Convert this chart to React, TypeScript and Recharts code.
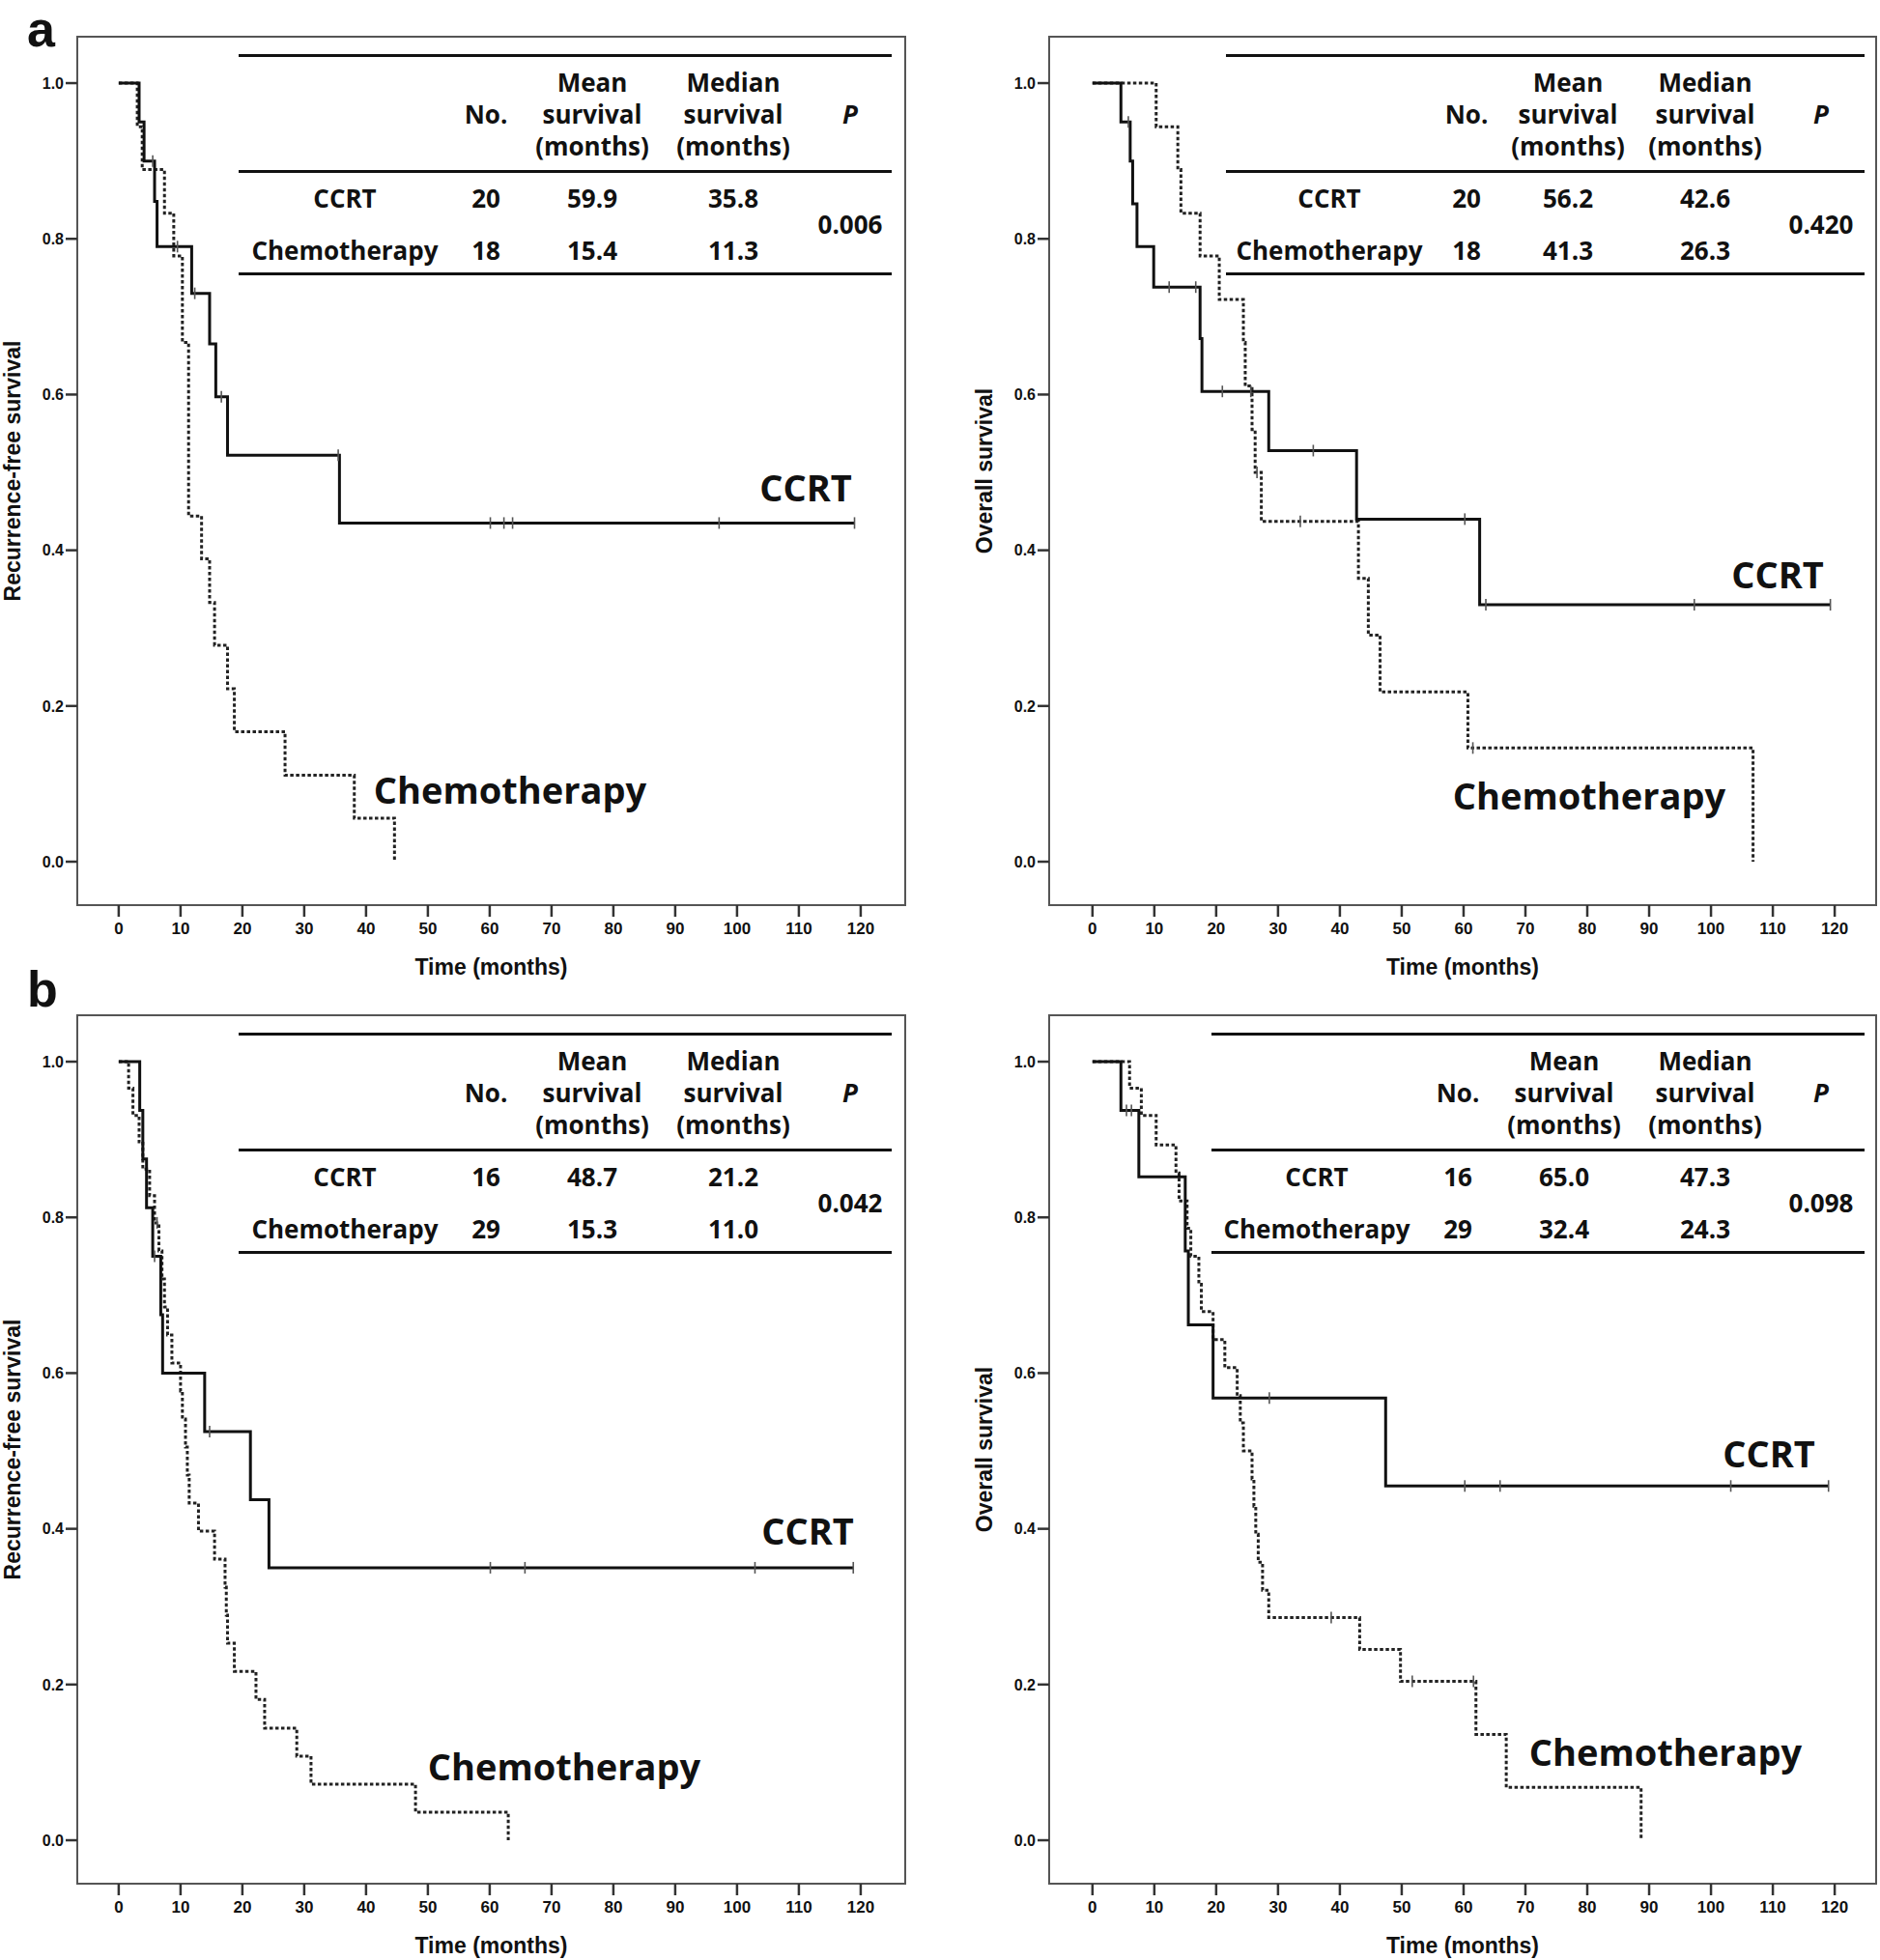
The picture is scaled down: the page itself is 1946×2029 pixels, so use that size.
import React from 'react';
import { ComposedChart, Line, Scatter, XAxis, YAxis, ReferenceArea, Label } from 'recharts';

// axis ticks shared by all four panels
const monthTicks = [0, 10, 20, 30, 40, 50, 60, 70, 80, 90, 100, 110, 120];
const survTicks = [0, 0.2, 0.4, 0.6, 0.8, 1.0];
const groupNames = ['CCRT', 'Chemotherapy'];

// a, recurrence-free survival
const aRfsCcrtTimes = [0, 3.3, 4.1, 5.8, 6.2, 11.8, 14.7, 15.7, 17.6, 35.7, 119];
const aRfsCcrtSurv = [1, 0.95, 0.9, 0.848, 0.79, 0.73, 0.665, 0.597, 0.522, 0.435, 0.435];
const aRfsCcrtCensor = [5.5, 9.5, 12.3, 16.6, 35.5, 60.1, 62.3, 63.7, 97.1, 119];
const aRfsChemoTimes = [0, 3.0, 3.8, 7.4, 8.9, 10.3, 11.3, 13.4, 14.7, 15.5, 17.6, 18.7, 26.9, 38.1, 44.6];
const aRfsChemoSurv = [1, 0.944, 0.889, 0.833, 0.778, 0.667, 0.444, 0.389, 0.333, 0.278, 0.222, 0.167, 0.111, 0.056, 0];
const aRfsChemoCensor: number[] = [];
const aRfsNo = [20, 18];
const aRfsMean = ['59.9', '15.4'];
const aRfsMedian = ['35.8', '11.3'];
const aRfsP = '0.006';

// a, overall survival
const aOsCcrtTimes = [0, 4.6, 6.1, 6.5, 7.2, 9.9, 17.4, 17.7, 28.5, 42.7, 62.6, 119.3];
const aOsCcrtSurv = [1, 0.95, 0.9, 0.845, 0.79, 0.738, 0.672, 0.604, 0.528, 0.44, 0.33, 0.33];
const aOsCcrtCensor = [5.8, 12.4, 16.7, 21.0, 25.6, 35.7, 60.2, 63.6, 97.3, 119.3];
const aOsChemoTimes = [0, 10.3, 13.8, 14.3, 17.4, 20.5, 24.4, 24.7, 25.8, 26.3, 27.3, 43.0, 44.6, 46.5, 60.7, 106.8];
const aOsChemoSurv = [1, 0.944, 0.889, 0.833, 0.778, 0.722, 0.667, 0.611, 0.555, 0.5, 0.437, 0.364, 0.291, 0.218, 0.146, 0];
const aOsChemoCensor = [26.6, 33.6, 61.5];
const aOsNo = [20, 18];
const aOsMean = ['56.2', '41.3'];
const aOsMedian = ['42.6', '26.3'];
const aOsP = '0.420';

// b, recurrence-free survival
const bRfsCcrtTimes = [0, 3.4, 3.9, 4.5, 5.5, 6.8, 7.1, 13.9, 21.3, 24.3, 118.8];
const bRfsCcrtSurv = [1, 0.9375, 0.875, 0.8125, 0.75, 0.675, 0.6, 0.525, 0.4375, 0.35, 0.35];
const bRfsCcrtCensor = [5.8, 14.7, 60.1, 65.7, 102.9, 118.8];
const bRfsChemoTimes = [0, 1.6, 2.3, 3.3, 3.9, 5.0, 5.8, 6.5, 7.0, 7.4, 7.9, 8.6, 10.0, 10.3, 10.8, 11.1, 11.4, 12.9, 15.5, 17.2, 17.4, 17.6, 18.7, 22.2, 23.6, 28.8, 31.1, 48.0, 63.0];
const bRfsChemoSurv = [1, 0.966, 0.931, 0.897, 0.862, 0.828, 0.793, 0.757, 0.721, 0.685, 0.649, 0.613, 0.577, 0.541, 0.505, 0.469, 0.433, 0.397, 0.361, 0.325, 0.289, 0.253, 0.217, 0.181, 0.144, 0.108, 0.072, 0.036, 0];
const bRfsChemoCensor = [6.2];
const bRfsNo = [16, 29];
const bRfsMean = ['48.7', '15.3'];
const bRfsMedian = ['21.2', '11.0'];
const bRfsP = '0.042';

// b, overall survival
const bOsCcrtTimes = [0, 4.6, 7.5, 15.0, 15.5, 19.5, 47.4, 119.0];
const bOsCcrtSurv = [1, 0.9375, 0.852, 0.757, 0.662, 0.568, 0.455, 0.455];
const bOsCcrtCensor = [5.5, 6.3, 28.6, 60.2, 65.9, 103.2, 119.0];
const bOsChemoTimes = [0, 6.0, 7.9, 10.3, 13.5, 14.0, 15.3, 15.9, 17.2, 17.6, 19.5, 21.4, 23.4, 23.9, 24.4, 25.8, 26.1, 26.4, 26.8, 27.5, 28.5, 43.2, 49.8, 62.0, 66.9, 88.7];
const bOsChemoSurv = [1, 0.966, 0.931, 0.893, 0.857, 0.821, 0.786, 0.75, 0.714, 0.679, 0.643, 0.607, 0.571, 0.536, 0.5, 0.464, 0.429, 0.393, 0.357, 0.321, 0.286, 0.245, 0.204, 0.136, 0.068, 0];
const bOsChemoCensor = [38.6, 51.7, 61.6];
const bOsNo = [16, 29];
const bOsMean = ['65.0', '32.4'];
const bOsMedian = ['47.3', '24.3'];
const bOsP = '0.098';

type Pt = { t: number; s: number };

const toSteps = (times: number[], surv: number[]): Pt[] => times.map((t, i) => ({ t, s: surv[i] }));

const survAt = (times: number[], surv: number[], t: number) => {
  let s = surv[0];
  times.forEach((x, i) => {
    if (x <= t) s = surv[i];
  });
  return s;
};

const toCensor = (times: number[], surv: number[], cens: number[]): Pt[] =>
  cens.map((t) => ({ t, s: survAt(times, surv, t) }));

const AXIS_FONT = '"Liberation Sans", Arial, sans-serif';
const TABLE_FONT = '"Open Sans", "Noto Sans", sans-serif';
const Y_DOMAIN: [number, number] = [-0.0558, 1.0596];
const FRAME_H = 899;
const PAD_L = 80;
const PAD_T = 38;

interface TableLayout {
  start: number;
  end: number;
  labelX: number;
  noX: number;
  meanX: number;
  medianX: number;
  pX: number;
}

interface PanelProps {
  left: number;
  top: number;
  frameW: number;
  xDomain: [number, number];
  yLabel: string;
  ccrtTimes: number[];
  ccrtSurv: number[];
  ccrtCensor: number[];
  chemoTimes: number[];
  chemoSurv: number[];
  chemoCensor: number[];
  no: number[];
  mean: string[];
  median: string[];
  p: string;
  layout: TableLayout;
  ccrtPos: [number, number];
  chemoPos: [number, number];
}

const CensorMark = (props: any) => {
  const { cx, cy } = props;
  if (cx == null || cy == null) return null;
  return <line x1={cx} x2={cx} y1={cy - 6} y2={cy + 6} stroke="#555" strokeWidth={1.6} />;
};

const Cell: React.FC<{ x: number; y: number; size?: number; italic?: boolean; weight?: number; children: React.ReactNode }> = ({
  x,
  y,
  size = 26,
  italic,
  weight = 700,
  children,
}) => (
  <div
    style={{
      position: 'absolute',
      left: PAD_L + x,
      top: PAD_T + y,
      transform: 'translate(-50%, -50%)',
      whiteSpace: 'nowrap',
      lineHeight: 1,
      fontFamily: TABLE_FONT,
      fontSize: size,
      fontWeight: weight,
      fontStyle: italic ? 'italic' : 'normal',
      color: '#111',
    }}
  >
    {children}
  </div>
);

const Rule: React.FC<{ y: number; start: number; end: number }> = ({ y, start, end }) => (
  <div
    style={{
      position: 'absolute',
      left: PAD_L + start,
      top: PAD_T + y - 1.5,
      width: end - start,
      height: 3,
      background: '#111',
    }}
  />
);

const KMPanel: React.FC<PanelProps> = (p) => {
  const width = PAD_L + p.frameW + 5;
  const height = PAD_T + FRAME_H + 80;
  const L = p.layout;
  return (
    <div style={{ position: 'absolute', left: p.left - PAD_L, top: p.top - PAD_T, width, height }}>
      <ComposedChart width={width} height={height} margin={{ top: PAD_T, right: 5, bottom: 0, left: 0 }}>
        <XAxis
          type="number"
          dataKey="t"
          domain={p.xDomain}
          ticks={monthTicks}
          allowDataOverflow
          height={80}
          axisLine={false}
          tickSize={12}
          tickMargin={6}
          tickLine={{ stroke: '#333', strokeWidth: 2.5 }}
          tick={{ fontSize: 17, fontWeight: 700, fill: '#111', fontFamily: AXIS_FONT }}
        >
          <Label
            value="Time (months)"
            position="insideBottom"
            offset={8}
            style={{ fontSize: 23, fontWeight: 700, fill: '#111', fontFamily: AXIS_FONT }}
          />
        </XAxis>
        <YAxis
          type="number"
          dataKey="s"
          domain={Y_DOMAIN}
          ticks={survTicks}
          allowDataOverflow
          width={PAD_L}
          axisLine={false}
          tickSize={12}
          tickMargin={2}
          tickFormatter={(v: number) => v.toFixed(1)}
          tickLine={{ stroke: '#333', strokeWidth: 2.5 }}
          tick={{ fontSize: 16, fontWeight: 700, fill: '#111', fontFamily: AXIS_FONT }}
        >
          <Label
            value={p.yLabel}
            angle={-90}
            position="insideLeft"
            offset={13}
            style={{ fontSize: 23, fontWeight: 700, fill: '#111', fontFamily: AXIS_FONT, textAnchor: 'middle' }}
          />
        </YAxis>
        <ReferenceArea
          x1={p.xDomain[0]}
          x2={p.xDomain[1]}
          y1={Y_DOMAIN[0]}
          y2={Y_DOMAIN[1]}
          fill="none"
          stroke="#555"
          strokeWidth={2}
          ifOverflow="visible"
        />
        <Line
          data={toSteps(p.chemoTimes, p.chemoSurv)}
          dataKey="s"
          type="stepAfter"
          stroke="#222"
          strokeWidth={3}
          strokeDasharray="3.5 2.5"
          dot={false}
          isAnimationActive={false}
        />
        <Line
          data={toSteps(p.ccrtTimes, p.ccrtSurv)}
          dataKey="s"
          type="stepAfter"
          stroke="#111"
          strokeWidth={3}
          dot={false}
          isAnimationActive={false}
        />
        <Scatter
          data={toCensor(p.chemoTimes, p.chemoSurv, p.chemoCensor)}
          dataKey="s"
          shape={CensorMark}
          isAnimationActive={false}
        />
        <Scatter
          data={toCensor(p.ccrtTimes, p.ccrtSurv, p.ccrtCensor)}
          dataKey="s"
          shape={CensorMark}
          isAnimationActive={false}
        />
      </ComposedChart>

      {/* summary table */}
      <Rule y={19} start={L.start} end={L.end} />
      <Cell x={L.meanX} y={47}>Mean</Cell>
      <Cell x={L.medianX} y={47}>Median</Cell>
      <Cell x={L.noX} y={80}>No.</Cell>
      <Cell x={L.meanX} y={80}>survival</Cell>
      <Cell x={L.medianX} y={80}>survival</Cell>
      <Cell x={L.pX} y={80} italic>P</Cell>
      <Cell x={L.meanX} y={113}>(months)</Cell>
      <Cell x={L.medianX} y={113}>(months)</Cell>
      <Rule y={139} start={L.start} end={L.end} />
      {groupNames.map((g, i) => (
        <React.Fragment key={g}>
          <Cell x={L.labelX} y={167 + i * 54}>{g}</Cell>
          <Cell x={L.noX} y={167 + i * 54}>{p.no[i]}</Cell>
          <Cell x={L.meanX} y={167 + i * 54}>{p.mean[i]}</Cell>
          <Cell x={L.medianX} y={167 + i * 54}>{p.median[i]}</Cell>
        </React.Fragment>
      ))}
      <Cell x={L.pX} y={194}>{p.p}</Cell>
      <Rule y={245} start={L.start} end={L.end} />

      {/* curve labels */}
      <Cell x={p.ccrtPos[0]} y={p.ccrtPos[1]} size={38}>CCRT</Cell>
      <Cell x={p.chemoPos[0]} y={p.chemoPos[1]} size={38}>Chemotherapy</Cell>
    </div>
  );
};

const layoutStd: TableLayout = { start: 167, end: 843, labelX: 277, noX: 423, meanX: 533, medianX: 679, pX: 800 };
const layoutAOs: TableLayout = { start: 183, end: 844, labelX: 290, noX: 432, meanX: 537, medianX: 679, pX: 799 };
const layoutBOs: TableLayout = { start: 168, end: 844, labelX: 277, noX: 423, meanX: 533, medianX: 679, pX: 799 };

const PanelLetter: React.FC<{ top: number; children: React.ReactNode }> = ({ top, children }) => (
  <div
    style={{
      position: 'absolute',
      left: 28,
      top,
      fontFamily: AXIS_FONT,
      fontWeight: 700,
      fontSize: 52,
      lineHeight: 1.15,
      color: '#111',
    }}
  >
    {children}
  </div>
);

export default function App() {
  return (
    <div
      style={{
        position: 'absolute',
        left: 0,
        top: 0,
        width: 1946,
        height: 2029,
        background: '#fff',
        overflow: 'hidden',
      }}
    >
      <PanelLetter top={1}>a</PanelLetter>
      <PanelLetter top={995}>b</PanelLetter>
      <KMPanel
        left={80}
        top={38}
        frameW={857}
        xDomain={[-6.7, 127.2]}
        yLabel="Recurrence-free survival"
        ccrtTimes={aRfsCcrtTimes}
        ccrtSurv={aRfsCcrtSurv}
        ccrtCensor={aRfsCcrtCensor}
        chemoTimes={aRfsChemoTimes}
        chemoSurv={aRfsChemoSurv}
        chemoCensor={aRfsChemoCensor}
        no={aRfsNo}
        mean={aRfsMean}
        median={aRfsMedian}
        p={aRfsP}
        layout={layoutStd}
        ccrtPos={[754, 466]}
        chemoPos={[448, 779]}
      />
      <KMPanel
        left={1086}
        top={38}
        frameW={856}
        xDomain={[-7.0, 126.7]}
        yLabel="Overall survival"
        ccrtTimes={aOsCcrtTimes}
        ccrtSurv={aOsCcrtSurv}
        ccrtCensor={aOsCcrtCensor}
        chemoTimes={aOsChemoTimes}
        chemoSurv={aOsChemoSurv}
        chemoCensor={aOsChemoCensor}
        no={aOsNo}
        mean={aOsMean}
        median={aOsMedian}
        p={aOsP}
        layout={layoutAOs}
        ccrtPos={[754, 556]}
        chemoPos={[559, 785]}
      />
      <KMPanel
        left={80}
        top={1051}
        frameW={857}
        xDomain={[-6.7, 127.2]}
        yLabel="Recurrence-free survival"
        ccrtTimes={bRfsCcrtTimes}
        ccrtSurv={bRfsCcrtSurv}
        ccrtCensor={bRfsCcrtCensor}
        chemoTimes={bRfsChemoTimes}
        chemoSurv={bRfsChemoSurv}
        chemoCensor={bRfsChemoCensor}
        no={bRfsNo}
        mean={bRfsMean}
        median={bRfsMedian}
        p={bRfsP}
        layout={layoutStd}
        ccrtPos={[756, 533]}
        chemoPos={[504, 777]}
      />
      <KMPanel
        left={1086}
        top={1051}
        frameW={856}
        xDomain={[-7.0, 126.7]}
        yLabel="Overall survival"
        ccrtTimes={bOsCcrtTimes}
        ccrtSurv={bOsCcrtSurv}
        ccrtCensor={bOsCcrtCensor}
        chemoTimes={bOsChemoTimes}
        chemoSurv={bOsChemoSurv}
        chemoCensor={bOsChemoCensor}
        no={bOsNo}
        mean={bOsMean}
        median={bOsMedian}
        p={bOsP}
        layout={layoutBOs}
        ccrtPos={[745, 453]}
        chemoPos={[638, 762]}
      />
    </div>
  );
}
